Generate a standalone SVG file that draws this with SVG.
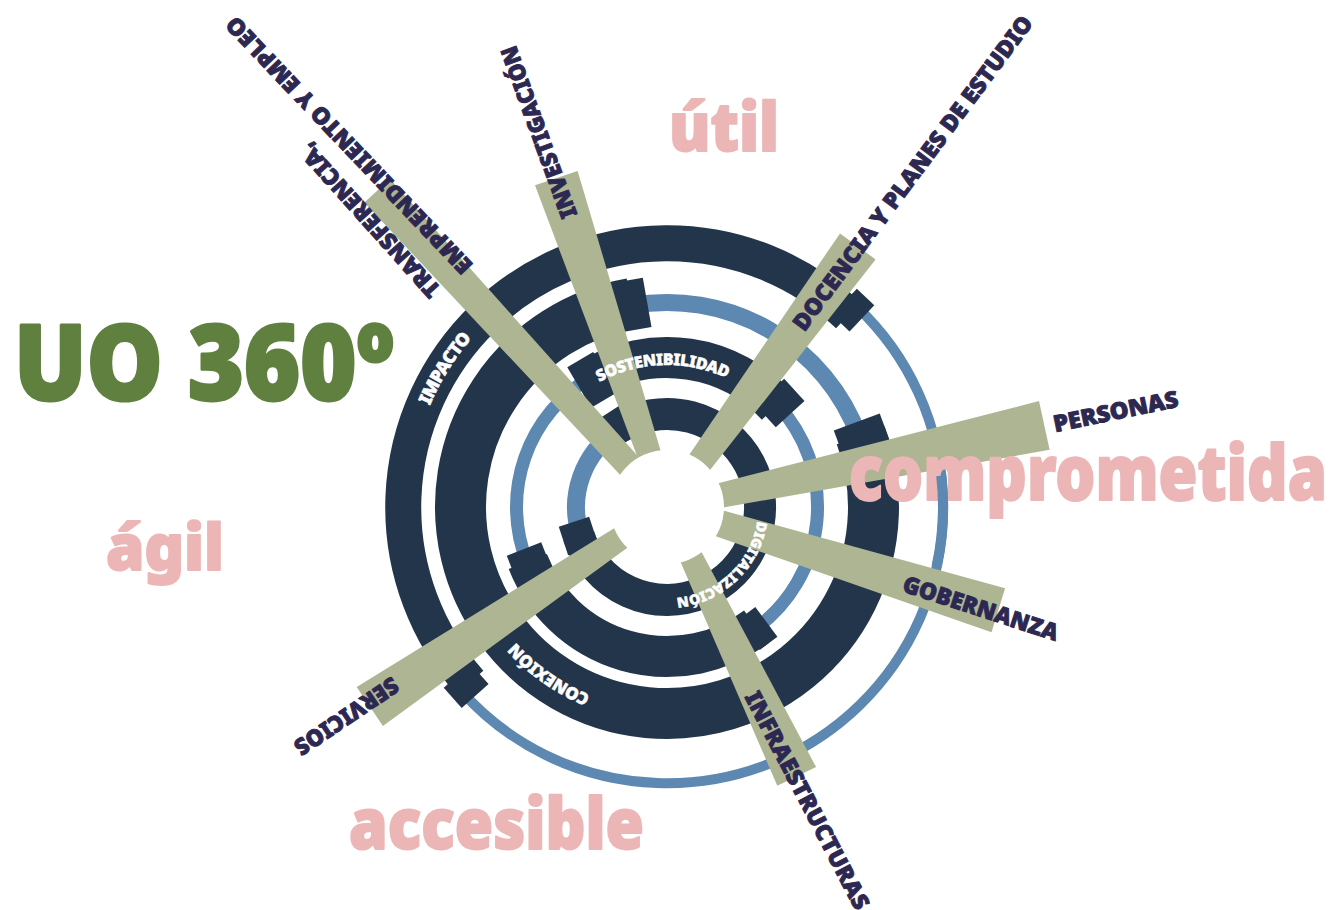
<svg xmlns="http://www.w3.org/2000/svg" width="1337" height="910" viewBox="0 0 1337 910">
<style>
.dk{fill:none;stroke:#22354b;stroke-linecap:butt}
.bl{fill:none;stroke:#5c88b2;stroke-linecap:butt}
.nt{fill:#22354b}
.ray{fill:#adb593}
.lbl{font-family:"Noto Sans","Open Sans",sans-serif;font-weight:900;font-size:23px;fill:#2c2851;stroke:#2c2851;stroke-width:0.9px;stroke-linejoin:round;text-anchor:middle;dominant-baseline:central}
.rl{font-family:"Noto Sans","Open Sans",sans-serif;font-weight:900;fill:#ffffff;stroke:#ffffff;stroke-width:0.5px;text-anchor:middle}
.big{font-family:"Noto Sans","Open Sans",sans-serif;font-weight:900;fill:#edb6b6;stroke:#edb6b6;stroke-width:2px;stroke-linejoin:round}
</style>
<defs>
<path id="pImp" d="M409.2,498 A258,258 0 0 1 545.9,279.2"/>
<path id="pSos" d="M592.2,386.3 A142,142 0 0 1 734.1,381.9"/>
<path id="pCon" d="M648.6,709.2 A203,203 0 0 1 482.7,592.1"/>
<path id="pDig" d="M757.9,517.4 A91.5,91.5 0 0 1 672.6,598.3"/>
</defs>
<rect width="1337" height="910" fill="#ffffff"/>
<g id="rings">
<path class="dk" stroke-width="36" d="M469.9,682.6 A264,264 0 0 1 848.4,315.2"/>
<path class="bl" stroke-width="10" d="M856.6,306.5 A276,276 0 1 1 460.9,690.6"/>
<path class="dk" stroke-width="51" d="M860.7,435.4 A206.5,206.5 0 1 1 631.1,303.6"/>
<path class="bl" stroke-width="17" d="M631.5,305.6 A204.5,204.5 0 0 1 858.8,436.1"/>
<path class="dk" stroke-width="41" d="M591.1,378.2 A149.5,149.5 0 0 1 777,405.8"/>
<path class="bl" stroke-width="13" d="M777.8,405.1 A150.5,150.5 0 0 1 756.9,627.7"/>
<path class="dk" stroke-width="41" d="M756.3,626.9 A149.5,149.5 0 0 1 527.8,561.5"/>
<path class="bl" stroke-width="13" d="M526.9,561.9 A150.5,150.5 0 0 1 590.6,377.3"/>
<path class="dk" stroke-width="32" d="M617,428.6 A93,93 0 1 1 578.7,536"/>
<path class="bl" stroke-width="18" d="M580.6,535.4 A91,91 0 0 1 618.1,430.3"/>
<rect class="nt" x="920" y="495" width="36" height="24" transform="rotate(313.4 667 507)"/>
<rect class="nt" x="918" y="493.5" width="36" height="27" transform="rotate(138.3 667 507)"/>
<rect class="nt" x="847" y="491" width="50" height="32" transform="rotate(260 667 507)"/>
<rect class="nt" x="850" y="493" width="49" height="28" transform="rotate(339.7 667 507)"/>
<rect class="nt" x="791" y="492" width="47" height="30" transform="rotate(239.5 667 507)"/>
<rect class="nt" x="801" y="492" width="39" height="30" transform="rotate(317.4 667 507)"/>
<rect class="nt" x="800" y="496" width="37" height="22" transform="rotate(53.3 667 507)"/>
<rect class="nt" x="797" y="494" width="37" height="26" transform="rotate(158.6 667 507)"/>
<rect class="nt" x="744" y="493" width="34" height="28" transform="rotate(237.5 667 507)"/>
<rect class="nt" x="744" y="492" width="32" height="30" transform="rotate(161.8 667 507)"/>
</g>
<g id="ray-transferencia">
<polygon class="ray" points="649.4,468.9 390.1,178.9 364.3,202.5 630.6,486.1"/>
<text class="lbl" transform="translate(369 221) rotate(-131.9)" textLength="198" lengthAdjust="spacingAndGlyphs">TRANSFERENCIA,</text>
<text class="lbl" transform="translate(348.5 146) rotate(-133.6)" textLength="345" lengthAdjust="spacingAndGlyphs">EMPRENDIMIENTO Y EMPLEO</text>
</g>
<g id="ray-investigacion">
<polygon class="ray" points="665,465.5 577.6,170.9 535,185.3 643.4,472.7"/>
<text class="lbl" transform="translate(538 132.5) rotate(-110)" textLength="181" lengthAdjust="spacingAndGlyphs">INVESTIGACIÓN</text>
</g>
<g id="ray-docencia">
<polygon class="ray" points="700.6,482 875.6,259.4 840,233.4 680.6,467.4"/>
<text class="lbl" transform="translate(912 172.5) rotate(-53.4)" textLength="385" lengthAdjust="spacingAndGlyphs">DOCENCIA Y PLANES DE ESTUDIO</text>
</g>
<g id="ray-personas">
<polygon class="ray" points="708.6,510.1 1049.6,449.8 1039,401 703.6,486.9"/>
<text class="lbl" transform="translate(1115.5 410.5) rotate(-11.7)" textLength="127" lengthAdjust="spacingAndGlyphs">PERSONAS</text>
</g>
<g id="ray-gobernanza">
<polygon class="ray" points="709,506.6 1005.1,588.2 991.5,632.2 701.4,531.2"/>
<text class="lbl" transform="translate(981 607.5) rotate(18)" textLength="162" lengthAdjust="spacingAndGlyphs">GOBERNANZA</text>
</g>
<g id="ray-infraestructuras">
<polygon class="ray" points="694.2,538.2 816.1,767.1 777.3,785.7 674.4,547.8"/>
<text class="lbl" transform="translate(808 800) rotate(62.5)" textLength="242" lengthAdjust="spacingAndGlyphs">INFRAESTRUCTURAS</text>
</g>
<g id="ray-servicios">
<polygon class="ray" points="627.6,520.1 356.7,687.1 382.9,726.1 640,538.5"/>
<text class="lbl" transform="translate(347 717) rotate(146.1)" textLength="120" lengthAdjust="spacingAndGlyphs">SERVICIOS</text>
</g>
<circle id="core" cx="667" cy="507" r="57" fill="#ffffff"/>
<g id="ring-labels">
<text class="rl" font-size="18"><textPath href="#pImp" startOffset="50%" textLength="80" lengthAdjust="spacing">IMPACTO</textPath></text>
<text class="rl" font-size="16"><textPath href="#pSos" startOffset="50%" textLength="132" lengthAdjust="spacing">SOSTENIBILIDAD</textPath></text>
<text class="rl" font-size="17"><textPath href="#pCon" startOffset="50%" textLength="92" lengthAdjust="spacing">CONEXIÓN</textPath></text>
<text class="rl" font-size="14"><textPath href="#pDig" startOffset="50%" textLength="120" lengthAdjust="spacing">DIGITALIZACIÓN</textPath></text>
</g>
<g id="words">
<text x="14" y="400" font-family="'Noto Sans','Open Sans',sans-serif" font-weight="900" font-size="105" fill="#5f803f" stroke="#5f803f" stroke-width="3" stroke-linejoin="round" textLength="380" lengthAdjust="spacingAndGlyphs">UO 360º</text>
<text class="big" x="669" y="151" font-size="68" textLength="110" lengthAdjust="spacingAndGlyphs">útil</text>
<text class="big" x="849" y="500" font-size="76" textLength="478" lengthAdjust="spacingAndGlyphs">comprometida</text>
<text class="big" x="106" y="570" font-size="64" textLength="118" lengthAdjust="spacingAndGlyphs">ágil</text>
<text class="big" x="349" y="849" font-size="70" textLength="295" lengthAdjust="spacingAndGlyphs">accesible</text>
</g>
<path id="ring-overlay" class="bl" stroke-width="10" d="M941.2,475.8 A276,276 0 0 1 936.5,566.7"/>
</svg>
